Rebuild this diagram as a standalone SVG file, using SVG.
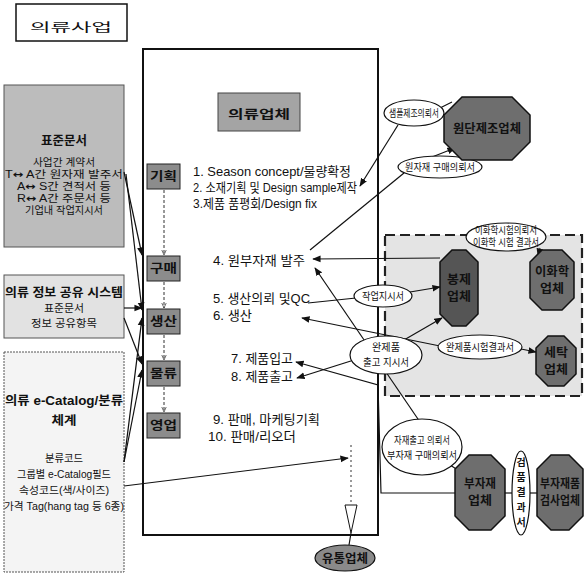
<svg xmlns="http://www.w3.org/2000/svg" width="585" height="578" viewBox="0 0 585 578">
<style>
.t{font-family:"Liberation Sans","Noto Sans CJK KR",sans-serif;font-size:12px;fill:#111}
.b{font-weight:bold}
.s{font-size:10px}
.m{font-size:13px}
.ar{font-family:"DejaVu Sans",sans-serif;font-weight:bold}
.ln{stroke:#111;stroke-width:1.2;fill:none}
.box{stroke:#111;stroke-width:1.5}
.oct{stroke:#111;stroke-width:1.5;fill:#6e6e6e}
.ell{stroke:#111;stroke-width:1.2;fill:#fff}
.stg{stroke:#222;stroke-width:1;fill:#8c8c8c}
.dash{stroke:#333;stroke-width:1;stroke-dasharray:3 2;fill:none}
</style>
<defs>
<marker id="ah" viewBox="0 0 10 10" refX="9" refY="5" markerWidth="7" markerHeight="7" orient="auto-start-reverse"><path d="M0,1 L10,5 L0,9 z" fill="#111"/></marker>
<marker id="va" viewBox="0 0 10 10" refX="9" refY="5" markerWidth="6" markerHeight="6" orient="auto"><path d="M0,1 L9,5 L0,9" fill="none" stroke="#333" stroke-width="1.2"/></marker>
</defs>
<rect width="585" height="578" fill="#fff"/>

<g id="title">
<rect x="16" y="4" width="111" height="37" fill="#fff" class="box"/>
<text x="71" y="32" class="t" font-size="25" text-anchor="middle" textLength="82" lengthAdjust="spacingAndGlyphs">의류사업</text>
</g>

<g id="std-docs">
<rect x="4" y="85" width="120" height="162" fill="#bcbcbc" stroke="#555" stroke-width="1"/>
<text x="64" y="145" class="t b" text-anchor="middle" textLength="46" lengthAdjust="spacingAndGlyphs">표준문서</text>
<text x="64" y="166" class="t s" text-anchor="middle" textLength="62" lengthAdjust="spacingAndGlyphs">사업간 계약서</text>
<text x="64" y="178" class="t s" text-anchor="middle" textLength="118" lengthAdjust="spacingAndGlyphs">T<tspan class="ar">↔</tspan> A간 원자재 발주서</text>
<text x="64" y="190" class="t s" text-anchor="middle" textLength="94" lengthAdjust="spacingAndGlyphs">A<tspan class="ar">↔</tspan> S간 견적서 등</text>
<text x="64" y="202" class="t s" text-anchor="middle" textLength="94" lengthAdjust="spacingAndGlyphs">R<tspan class="ar">↔</tspan> A간 주문서 등</text>
<text x="64" y="214" class="t s" text-anchor="middle" textLength="78" lengthAdjust="spacingAndGlyphs">기업내 작업지시서</text>
</g>

<g id="info-share">
<rect x="4" y="275" width="120" height="63" fill="#e2e2e2" stroke="#555" stroke-width="1"/>
<text x="64" y="297" class="t b" text-anchor="middle" textLength="118" lengthAdjust="spacingAndGlyphs">의류 정보 공유 시스템</text>
<text x="64" y="312" class="t s" text-anchor="middle" textLength="40" lengthAdjust="spacingAndGlyphs">표준문서</text>
<text x="64" y="327" class="t s" text-anchor="middle" textLength="66" lengthAdjust="spacingAndGlyphs">정보 공유항목</text>
</g>

<g id="ecatalog">
<rect x="4" y="352" width="120" height="220" fill="#f4f4f4" stroke="#555" stroke-width="1" stroke-dasharray="2 1"/>
<text x="64" y="405" class="t b" text-anchor="middle" textLength="118" lengthAdjust="spacingAndGlyphs">의류 e-Catalog/분류</text>
<text x="64" y="425" class="t b" text-anchor="middle" textLength="25" lengthAdjust="spacingAndGlyphs">체계</text>
<text x="64" y="462" class="t s" text-anchor="middle" textLength="38" lengthAdjust="spacingAndGlyphs">분류코드</text>
<text x="64" y="478" class="t s" text-anchor="middle" textLength="94" lengthAdjust="spacingAndGlyphs">그룹별 e-Catalog필드</text>
<text x="64" y="494" class="t s" text-anchor="middle" textLength="90" lengthAdjust="spacingAndGlyphs">속성코드(색/사이즈)</text>
<text x="64" y="510" class="t s" text-anchor="middle" textLength="120" lengthAdjust="spacingAndGlyphs">가격 Tag(hang tag 등 6종)</text>
</g>

<g id="apparel-company">
<rect x="143" y="49" width="235" height="486" fill="#fff" stroke="#111" stroke-width="2"/>
<rect x="218" y="93" width="82" height="38" fill="#a4a4a4" stroke="#444" stroke-width="1"/>
<text x="259" y="119" class="t b" font-size="19" text-anchor="middle" textLength="62" lengthAdjust="spacingAndGlyphs">의류업체</text>
</g>

<g id="stages">
<rect x="147" y="164" width="33" height="25" class="stg"/>
<text x="163.5" y="181" class="t b" font-size="13" text-anchor="middle" textLength="27" lengthAdjust="spacingAndGlyphs">기획</text>
<rect x="147" y="256" width="33" height="25" class="stg"/>
<text x="163.5" y="273" class="t b" font-size="13" text-anchor="middle" textLength="27" lengthAdjust="spacingAndGlyphs">구매</text>
<rect x="147" y="309" width="33" height="25" class="stg"/>
<text x="163.5" y="326" class="t b" font-size="13" text-anchor="middle" textLength="27" lengthAdjust="spacingAndGlyphs">생산</text>
<rect x="147" y="361" width="33" height="25" class="stg"/>
<text x="163.5" y="378" class="t b" font-size="13" text-anchor="middle" textLength="27" lengthAdjust="spacingAndGlyphs">물류</text>
<rect x="147" y="413" width="33" height="25" class="stg"/>
<text x="163.5" y="430" class="t b" font-size="13" text-anchor="middle" textLength="27" lengthAdjust="spacingAndGlyphs">영업</text>
</g>

<g id="steps">
<text x="193" y="176" class="t m" textLength="158" lengthAdjust="spacingAndGlyphs">1. Season concept/물량확정</text>
<text x="193" y="192" class="t m" textLength="164" lengthAdjust="spacingAndGlyphs">2. 소재기획 및 Design sample제작</text>
<text x="193" y="208" class="t m" textLength="124" lengthAdjust="spacingAndGlyphs">3.제품 품평회/Design fix</text>
<text x="213" y="265" class="t m" textLength="92" lengthAdjust="spacingAndGlyphs">4. 원부자재 발주</text>
<text x="213" y="303" class="t m" textLength="97" lengthAdjust="spacingAndGlyphs">5. 생산의뢰 및QC</text>
<text x="213" y="320" class="t m" textLength="39" lengthAdjust="spacingAndGlyphs">6. 생산</text>
<text x="231" y="363" class="t m" textLength="62" lengthAdjust="spacingAndGlyphs">7. 제품입고</text>
<text x="231" y="381" class="t m" textLength="62" lengthAdjust="spacingAndGlyphs">8. 제품출고</text>
<text x="213" y="424" class="t m" textLength="107" lengthAdjust="spacingAndGlyphs">9. 판매, 마케팅기획</text>
<text x="208" y="441" class="t m" textLength="88" lengthAdjust="spacingAndGlyphs">10. 판매/리오더</text>
</g>

<g id="subcontract-area">
<rect x="385" y="235" width="197" height="161" fill="#e4e4e4" stroke="#222" stroke-width="2.2" stroke-dasharray="10 5"/>
</g>

<g id="connectors">
<line x1="164" y1="190" x2="164" y2="255" class="dash" marker-end="url(#va)"/>
<line x1="164" y1="282" x2="164" y2="308" class="dash" marker-end="url(#va)"/>
<line x1="164" y1="335" x2="164" y2="360" class="dash" marker-end="url(#va)"/>
<line x1="164" y1="387" x2="164" y2="412" class="dash" marker-end="url(#va)"/>
<line x1="124" y1="172" x2="142" y2="255" class="ln" marker-end="url(#ah)"/>
<line x1="126" y1="174" x2="142" y2="310" class="ln" marker-end="url(#ah)"/>
<line x1="124" y1="308" x2="142" y2="308" class="ln" marker-end="url(#ah)"/>
<line x1="124" y1="318" x2="142" y2="364" class="ln" marker-end="url(#ah)"/>
<line x1="124" y1="462" x2="142" y2="318" class="ln" marker-end="url(#ah)"/>
<line x1="124" y1="462" x2="142" y2="370" class="ln" marker-end="url(#ah)"/>
<line x1="124" y1="486" x2="348" y2="458" class="ln" marker-end="url(#ah)"/>
<line x1="440" y1="108" x2="452" y2="102" class="ln"/>
<line x1="398" y1="125" x2="360" y2="186" class="ln" marker-end="url(#ah)"/>
<line x1="310" y1="250" x2="404" y2="173" class="ln"/>
<line x1="432" y1="157" x2="455" y2="148" class="ln" marker-end="url(#ah)"/>
<line x1="440" y1="258" x2="313" y2="259" class="ln" marker-end="url(#ah)"/>
<line x1="420" y1="422" x2="315" y2="268" class="ln" marker-end="url(#ah)"/>
<line x1="308" y1="303" x2="356" y2="298" class="ln"/>
<line x1="410" y1="292" x2="440" y2="287" class="ln" marker-end="url(#ah)"/>
<line x1="440" y1="346" x2="302" y2="318" class="ln" marker-end="url(#ah)"/>
<line x1="521" y1="349" x2="536" y2="352" class="ln" marker-end="url(#ah)"/>
<line x1="540" y1="248" x2="538" y2="256" class="ln" marker-end="url(#ah)"/>
<line x1="404" y1="340" x2="442" y2="318" class="ln" marker-end="url(#ah)"/>
<line x1="354" y1="360" x2="297" y2="378" class="ln" marker-end="url(#ah)"/>
<path d="M455,493 L381,493 L378,385 L296,362" class="ln" marker-end="url(#ah)"/>
<line x1="450" y1="465" x2="461" y2="472" class="ln"/>
<line x1="505" y1="493" x2="537" y2="493" class="ln"/>
<line x1="351" y1="445" x2="351" y2="505" stroke="#333" stroke-width="1" stroke-dasharray="2 3"/>
<path d="M345,505 L357,505 L351,533 z" fill="#fff" stroke="#111" stroke-width="1"/>
<line x1="351" y1="533" x2="349" y2="545" class="ln"/>
</g>

<g id="sample-request">
<ellipse cx="414" cy="113" rx="30" ry="13" class="ell"/>
<text x="414" y="117" class="t s" text-anchor="middle" textLength="50" lengthAdjust="spacingAndGlyphs">샘플제조의뢰서</text>
</g>
<g id="material-purchase-request">
<ellipse cx="440" cy="167" rx="42" ry="11" class="ell"/>
<text x="440" y="171" class="t s" text-anchor="middle" textLength="70" lengthAdjust="spacingAndGlyphs">원자재 구매의뢰서</text>
</g>
<g id="fabric-maker">
<polygon points="462,97 512,97 530,115 530,142 512,160 462,160 444,142 444,115" class="oct"/>
<text x="487" y="133" class="t b" text-anchor="middle" textLength="68" lengthAdjust="spacingAndGlyphs">원단제조업체</text>
</g>
<g id="chem-test-docs">
<ellipse cx="506" cy="237" rx="40" ry="14" class="ell"/>
<text x="506" y="234" class="t s" text-anchor="middle" textLength="62" lengthAdjust="spacingAndGlyphs">이화학시험의뢰서</text>
<text x="506" y="246" class="t s" text-anchor="middle" textLength="66" lengthAdjust="spacingAndGlyphs">이화학 시험 결과서</text>
</g>
<g id="sewing">
<polygon points="452,250 466,250 478,262 478,314 466,326 452,326 440,314 440,262" fill="#555" stroke="#111" stroke-width="1.5"/>
<text x="459" y="284" class="t b" text-anchor="middle" textLength="24" lengthAdjust="spacingAndGlyphs">봉제</text>
<text x="459" y="301" class="t b" text-anchor="middle" textLength="24" lengthAdjust="spacingAndGlyphs">업체</text>
</g>
<g id="chem-lab">
<polygon points="542,250 562,250 574,262 574,298 562,310 542,310 530,298 530,262" class="oct" fill="#7a7a7a"/>
<text x="552" y="276" class="t b" text-anchor="middle" textLength="34" lengthAdjust="spacingAndGlyphs">이화학</text>
<text x="552" y="293" class="t b" text-anchor="middle" textLength="24" lengthAdjust="spacingAndGlyphs">업체</text>
</g>
<g id="laundry">
<polygon points="548,336 564,336 576,348 576,374 564,386 548,386 536,374 536,348" class="oct"/>
<text x="556" y="357" class="t b" text-anchor="middle" textLength="24" lengthAdjust="spacingAndGlyphs">세탁</text>
<text x="556" y="374" class="t b" text-anchor="middle" textLength="24" lengthAdjust="spacingAndGlyphs">업체</text>
</g>
<g id="work-order">
<ellipse cx="383" cy="296" rx="29" ry="11" class="ell"/>
<text x="383" y="300" class="t s" text-anchor="middle" textLength="42" lengthAdjust="spacingAndGlyphs">작업지시서</text>
</g>
<g id="product-test-result">
<ellipse cx="480" cy="347" rx="42" ry="12" class="ell"/>
<text x="480" y="351" class="t s" text-anchor="middle" textLength="68" lengthAdjust="spacingAndGlyphs">완제품시험결과서</text>
</g>
<g id="shipping-order">
<ellipse cx="386" cy="355" rx="36" ry="19" class="ell"/>
<text x="386" y="351" class="t s" text-anchor="middle" textLength="28" lengthAdjust="spacingAndGlyphs">완제품</text>
<text x="386" y="366" class="t s" text-anchor="middle" textLength="46" lengthAdjust="spacingAndGlyphs">출고 지시서</text>
</g>
<g id="material-release">
<ellipse cx="422" cy="447" rx="40" ry="28" class="ell"/>
<text x="422" y="444" class="t s" text-anchor="middle" textLength="56" lengthAdjust="spacingAndGlyphs">자재출고 의뢰서</text>
<text x="422" y="459" class="t s" text-anchor="middle" textLength="70" lengthAdjust="spacingAndGlyphs">부자재 구매의뢰서</text>
</g>
<g id="trim-supplier">
<polygon points="469,455 491,455 505,469 505,516 491,530 469,530 455,516 455,469" class="oct" fill="#666"/>
<text x="480" y="488" class="t b" text-anchor="middle" textLength="32" lengthAdjust="spacingAndGlyphs">부자재</text>
<text x="480" y="505" class="t b" text-anchor="middle" textLength="24" lengthAdjust="spacingAndGlyphs">업체</text>
</g>
<g id="inspection-result">
<ellipse cx="521" cy="493" rx="9" ry="42" class="ell"/>
<text x="521" y="466" class="t b s" text-anchor="middle">검</text>
<text x="521" y="481" class="t b s" text-anchor="middle">품</text>
<text x="521" y="496" class="t b s" text-anchor="middle">결</text>
<text x="521" y="511" class="t b s" text-anchor="middle">과</text>
<text x="521" y="526" class="t b s" text-anchor="middle">서</text>
</g>
<g id="trim-inspector">
<polygon points="551,455 569,455 583,469 583,516 569,530 551,530 537,516 537,469" class="oct" fill="#777"/>
<text x="560" y="488" class="t b" text-anchor="middle" textLength="40" lengthAdjust="spacingAndGlyphs">부자재품</text>
<text x="560" y="505" class="t b" text-anchor="middle" textLength="40" lengthAdjust="spacingAndGlyphs">검사업체</text>
</g>
<g id="distributor">
<ellipse cx="345" cy="558" rx="30" ry="13" fill="#8a8a8a" stroke="#111" stroke-width="1.2"/>
<text x="345" y="563" class="t b" text-anchor="middle" textLength="46" lengthAdjust="spacingAndGlyphs">유통업체</text>
</g>
</svg>
